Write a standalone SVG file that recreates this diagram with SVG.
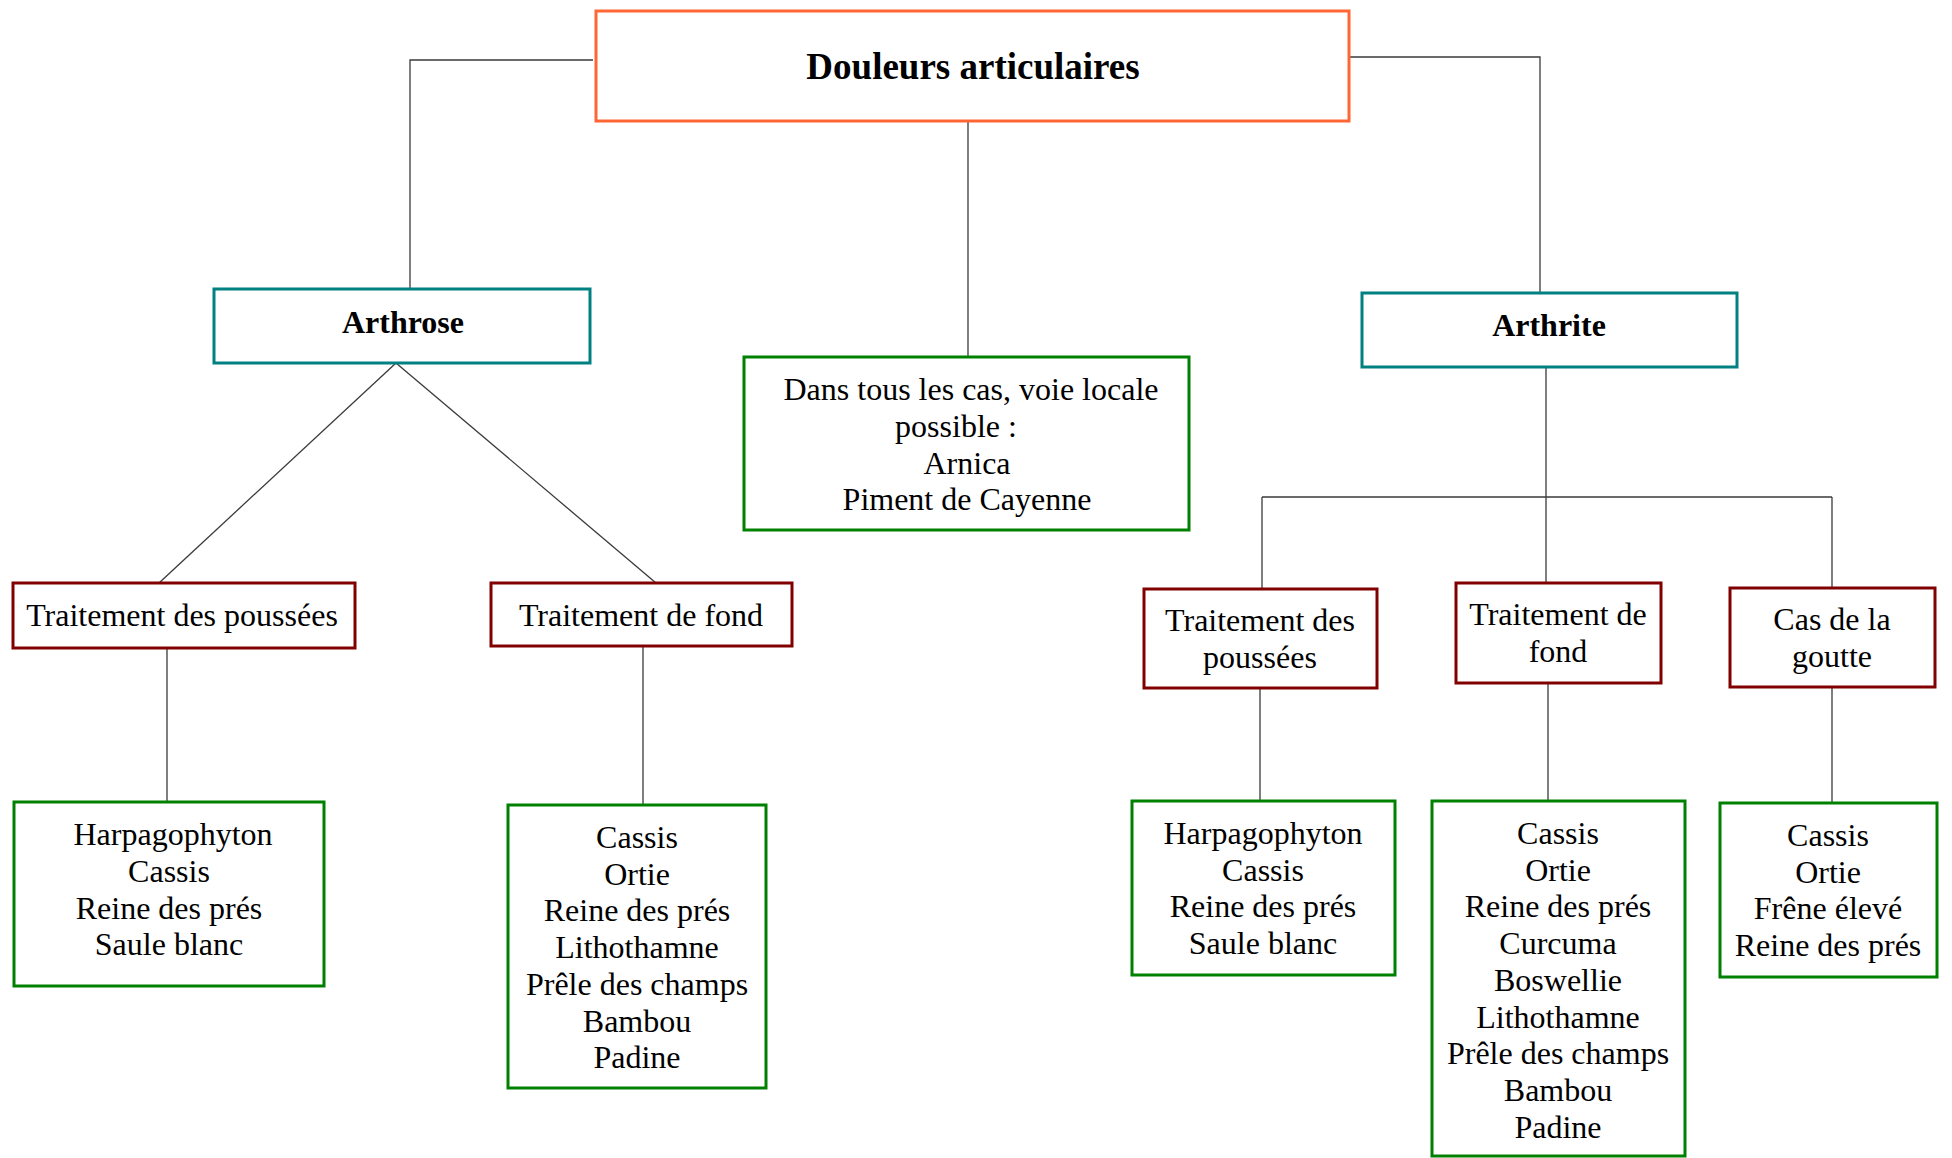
<svg xmlns="http://www.w3.org/2000/svg" width="1952" height="1158" viewBox="0 0 1952 1158">
<style>
.bx{fill:#fff;stroke-width:3}
.root{stroke:#FF6633}
.main{stroke:#008080}
.trt{stroke:#800000}
.leaf{stroke:#008000}
text{font-family:"Liberation Serif","Times New Roman",serif;font-size:32px;fill:#000;text-anchor:middle}
.b{font-weight:bold}
.conn{fill:none;stroke:#3a3a3a;stroke-width:1.3}
</style>
<rect width="1952" height="1158" fill="#fff"/>
<g id="connectors" class="conn">
<polyline points="593,60 410,60 410,289"/>
<polyline points="1350,57 1540,57 1540,293"/>
<line x1="968" y1="121" x2="968" y2="357"/>
<line x1="396" y1="363" x2="159" y2="583"/>
<line x1="396" y1="363" x2="656" y2="583"/>
<line x1="167" y1="648" x2="167" y2="802"/>
<line x1="643" y1="646" x2="643" y2="805"/>
<line x1="1546" y1="367" x2="1546" y2="497"/>
<line x1="1262" y1="497" x2="1832" y2="497"/>
<line x1="1262" y1="497" x2="1262" y2="589"/>
<line x1="1546" y1="497" x2="1546" y2="583"/>
<line x1="1832" y1="497" x2="1832" y2="588"/>
<line x1="1260" y1="688" x2="1260" y2="801"/>
<line x1="1548" y1="683" x2="1548" y2="801"/>
<line x1="1832" y1="687" x2="1832" y2="803"/>
</g>
<g id="root">
<rect class="bx root" x="596" y="11" width="753" height="110"/>
<text class="b" x="973" y="79" style="font-size:37px">Douleurs articulaires</text>
</g>
<g id="arthrose">
<rect class="bx main" x="214" y="289" width="376" height="74"/>
<text class="b" x="403" y="333">Arthrose</text>
</g>
<g id="arthrite">
<rect class="bx main" x="1362" y="293" width="375" height="74"/>
<text class="b" x="1549" y="336">Arthrite</text>
</g>
<g id="voie-locale">
<rect class="bx leaf" x="744" y="357" width="445" height="173"/>
<text x="971" y="400">Dans tous les cas, voie locale</text>
<text x="956" y="437">possible :</text>
<text x="967" y="473.5">Arnica</text>
<text x="967" y="510">Piment de Cayenne</text>
</g>
<g id="arthrose-poussees">
<rect class="bx trt" x="13" y="583" width="342" height="65"/>
<text x="182" y="626">Traitement des poussées</text>
</g>
<g id="arthrose-fond">
<rect class="bx trt" x="491" y="583" width="301" height="63"/>
<text x="641" y="626">Traitement de fond</text>
</g>
<g id="arthrite-poussees">
<rect class="bx trt" x="1144" y="589" width="233" height="99"/>
<text x="1260" y="631">Traitement des</text>
<text x="1260" y="668">poussées</text>
</g>
<g id="arthrite-fond">
<rect class="bx trt" x="1456" y="583" width="205" height="100"/>
<text x="1558" y="625">Traitement de</text>
<text x="1558" y="662">fond</text>
</g>
<g id="goutte">
<rect class="bx trt" x="1730" y="588" width="205" height="99"/>
<text x="1832" y="630">Cas de la</text>
<text x="1832" y="667">goutte</text>
</g>
<g id="leaf-arthrose-poussees">
<rect class="bx leaf" x="14" y="802" width="310" height="184"/>
<text x="173" y="845">Harpagophyton</text>
<text x="169" y="881.8">Cassis</text>
<text x="169" y="918.6">Reine des prés</text>
<text x="169" y="955.4">Saule blanc</text>
</g>
<g id="leaf-arthrose-fond">
<rect class="bx leaf" x="508" y="805" width="258" height="283"/>
<text x="637" y="848">Cassis</text>
<text x="637" y="884.7">Ortie</text>
<text x="637" y="921.4">Reine des prés</text>
<text x="637" y="958.1">Lithothamne</text>
<text x="637" y="994.8">Prêle des champs</text>
<text x="637" y="1031.5">Bambou</text>
<text x="637" y="1068.2">Padine</text>
</g>
<g id="leaf-arthrite-poussees">
<rect class="bx leaf" x="1132" y="801" width="263" height="174"/>
<text x="1263" y="844">Harpagophyton</text>
<text x="1263" y="880.7">Cassis</text>
<text x="1263" y="917.4">Reine des prés</text>
<text x="1263" y="954.1">Saule blanc</text>
</g>
<g id="leaf-arthrite-fond">
<rect class="bx leaf" x="1432" y="801" width="253" height="355"/>
<text x="1558" y="844">Cassis</text>
<text x="1558" y="880.7">Ortie</text>
<text x="1558" y="917.4">Reine des prés</text>
<text x="1558" y="954.1">Curcuma</text>
<text x="1558" y="990.8">Boswellie</text>
<text x="1558" y="1027.5">Lithothamne</text>
<text x="1558" y="1064.2">Prêle des champs</text>
<text x="1558" y="1100.9">Bambou</text>
<text x="1558" y="1137.6">Padine</text>
</g>
<g id="leaf-goutte">
<rect class="bx leaf" x="1720" y="803" width="217" height="174"/>
<text x="1828" y="846">Cassis</text>
<text x="1828" y="882.7">Ortie</text>
<text x="1828" y="919.4">Frêne élevé</text>
<text x="1828" y="956.1">Reine des prés</text>
</g>
</svg>
